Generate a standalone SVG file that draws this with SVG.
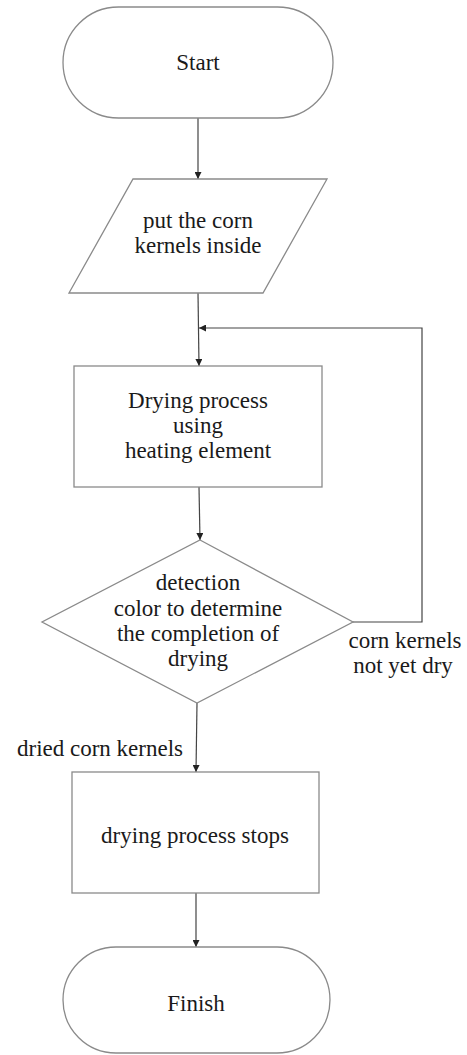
<svg xmlns="http://www.w3.org/2000/svg" width="467" height="1055" viewBox="0 0 467 1055">
  <style>
    .shape { fill: #ffffff; stroke: #8a8a8a; stroke-width: 1.3; }
    .edge { fill: none; stroke: #444444; stroke-width: 1.2; }
    .label { font-family: "Liberation Serif", "DejaVu Serif", serif; font-size: 23px; fill: #1a1a1a; text-anchor: middle; dominant-baseline: central; }
  </style>
  <defs>
    <marker id="arrow" viewBox="0 0 10 10" refX="10" refY="5" markerWidth="7" markerHeight="7" markerUnits="userSpaceOnUse" orient="auto">
      <path d="M0,0 L10,5 L0,10 Z" fill="#222222"/>
    </marker>
  </defs>
  <rect width="467" height="1055" fill="#ffffff"/>

  <!-- flow lines and branch labels -->
  <g id="connectors">
    <line class="edge" x1="198" y1="118" x2="198" y2="179" marker-end="url(#arrow)"/>
    <line class="edge" x1="198" y1="293" x2="199" y2="366" marker-end="url(#arrow)"/>
    <polyline class="edge" points="353,622 422,622 422,328 199,328" marker-end="url(#arrow)"/>
    <line class="edge" x1="199" y1="487" x2="200" y2="540" marker-end="url(#arrow)"/>
    <line class="edge" x1="197" y1="703" x2="196" y2="772" marker-end="url(#arrow)"/>
    <line class="edge" x1="196" y1="893" x2="196" y2="947" marker-end="url(#arrow)"/>
    <text class="label" x="405" y="640">corn kernels</text>
    <text class="label" x="403" y="665">not yet dry</text>
    <text class="label" x="100" y="748">dried corn kernels</text>
  </g>

  <g id="start">
    <rect class="shape" x="63" y="7" width="270" height="111" rx="55.5" ry="55.5"/>
    <text class="label" x="198" y="62">Start</text>
  </g>

  <g id="input-kernels">
    <polygon class="shape" points="133,179 327,179 263,293 69,293"/>
    <text class="label" x="198" y="220">put the corn</text>
    <text class="label" x="198" y="245">kernels inside</text>
  </g>

  <g id="drying">
    <rect class="shape" x="74" y="366" width="248" height="121"/>
    <text class="label" x="198" y="400">Drying process</text>
    <text class="label" x="198" y="425">using</text>
    <text class="label" x="198" y="450">heating element</text>
  </g>

  <g id="detection">
    <polygon class="shape" points="200,540 353,622 197,703 42,622"/>
    <text class="label" x="198" y="582">detection</text>
    <text class="label" x="198" y="608">color to determine</text>
    <text class="label" x="198" y="633">the completion of</text>
    <text class="label" x="198" y="658">drying</text>
  </g>

  <g id="stop">
    <rect class="shape" x="72" y="772" width="247" height="121"/>
    <text class="label" x="195" y="835">drying process stops</text>
  </g>

  <g id="finish">
    <rect class="shape" x="63" y="947" width="267" height="106" rx="53" ry="53"/>
    <text class="label" x="196" y="1003">Finish</text>
  </g>
</svg>
